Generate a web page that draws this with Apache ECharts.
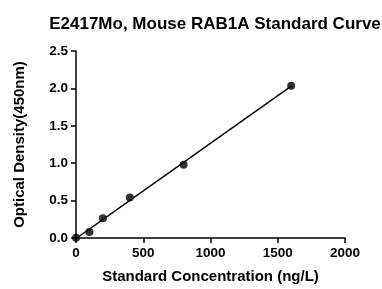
<!DOCTYPE html>
<html><head><meta charset="utf-8">
<script src="https://cdn.jsdelivr.net/npm/echarts@6/dist/echarts.min.js"></script>
<style>html,body{margin:0;padding:0;background:#fff}#c{width:382px;height:289px}</style>
</head><body><div id="c"></div>
<script>
var titleText = "E2417Mo, Mouse RAB1A Standard Curve";
var xName = "Standard Concentration (ng/L)";
var yName = "Optical Density(450nm)";
var concentrations = [0, 100, 200, 400, 800, 1600];
var odValues = [0.003, 0.08, 0.264, 0.54, 0.98, 2.036];
var fitX = [0, 1600];
var fitY = [-0.007, 2.03];

var chart = echarts.init(document.getElementById('c'), null, {renderer: 'canvas'});
var font = 'Liberation Sans, Arial, sans-serif';
chart.setOption({
  animation: false,
  backgroundColor: '#fff',
  title: {text: titleText, left: 210, top: 11, textAlign: 'center',
    textStyle: {fontFamily: font, fontWeight: 'bold', fontSize: 17, color: '#000'}},
  grid: {left: 76, right: 37, top: 51, bottom: 49, containLabel: false},
  xAxis: {type: 'value', min: 0, max: 2000, interval: 500,
    name: xName, nameLocation: 'middle', nameGap: 31,
    nameTextStyle: {fontFamily: font, fontWeight: 'bold', fontSize: 15, color: '#000'},
    axisLine: {lineStyle: {color: '#000', width: 1.5}},
    axisTick: {show: true, length: 5, lineStyle: {color: '#000', width: 1.5}},
    axisLabel: {fontFamily: font, fontWeight: 'bold', fontSize: 13.5, color: '#000', margin: 8,
      formatter: function(v){return String(v);}},
    splitLine: {show: false}},
  yAxis: {type: 'value', min: 0, max: 2.5, interval: 0.5,
    name: yName, nameLocation: 'middle', nameGap: 49, nameRotate: 90,
    nameTextStyle: {fontFamily: font, fontWeight: 'bold', fontSize: 15, color: '#000'},
    axisLine: {show: true, lineStyle: {color: '#000', width: 1.5}},
    axisTick: {show: true, length: 5, lineStyle: {color: '#000', width: 1.5}},
    axisLabel: {fontFamily: font, fontWeight: 'bold', fontSize: 13.5, color: '#000', margin: 8,
      formatter: function(v){return v.toFixed(1);}},
    splitLine: {show: false}},
  series: [
    {type: 'line', data: fitX.map(function(x,i){return [x, fitY[i]];}),
      symbol: 'none', lineStyle: {color: '#000', width: 1.5}, silent: true},
    {type: 'scatter', data: concentrations.map(function(x,i){return [x, odValues[i]];}),
      symbol: 'circle', symbolSize: 8, itemStyle: {color: '#000'}}
  ]
});
</script></body></html>
